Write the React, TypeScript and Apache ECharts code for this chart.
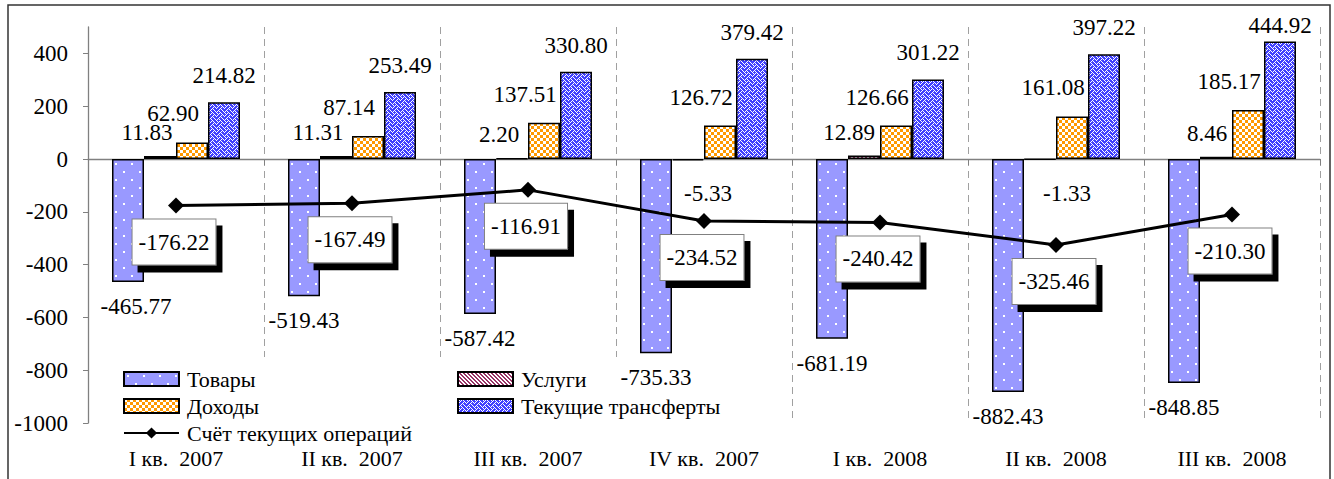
import React, { useEffect, useRef } from 'react';
import * as echarts from 'echarts';

const categories = ['I кв.  2007', 'II кв.  2007', 'III кв.  2007', 'IV кв.  2007', 'I кв.  2008', 'II кв.  2008', 'III кв.  2008'];
const goods = [-465.77, -519.43, -587.42, -735.33, -681.19, -882.43, -848.85];
const services = [11.83, 11.31, 2.2, -5.33, 12.89, -1.33, 8.46];
const income = [62.9, 87.14, 137.51, 126.72, 126.66, 161.08, 185.17];
const transfers = [214.82, 253.49, 330.8, 379.42, 301.22, 397.22, 444.92];
const currentAccount = [-176.22, -167.49, -116.91, -234.52, -240.42, -325.46, -210.3];
const yTicks = [-1000, -800, -600, -400, -200, 0, 200, 400];

// label placement tweaks (positions only)
const goodsLabelDx = [8, 0, 0, 0, 0, 0, 0];
const servicesLabelDx = [-13, -18, -13, 20, -15, 27, -9];
const transfersLabelDist = [15, 15, 15, 15, 15, 15, 5];

const FONT = 'Liberation Serif';

function makeCanvas(w: number, h: number, draw: (ctx: CanvasRenderingContext2D) => void) {
  const c = document.createElement('canvas');
  c.width = w;
  c.height = h;
  const ctx = c.getContext('2d')!;
  draw(ctx);
  return c;
}

function patterns() {
  const goodsP = makeCanvas(16, 16, (ctx) => {
    ctx.fillStyle = '#9999FF';
    ctx.fillRect(0, 0, 16, 16);
    ctx.fillStyle = '#ffffff';
    ctx.fillRect(3, 3, 2, 2);
    ctx.fillRect(11, 11, 2, 2);
  });
  const servicesP = makeCanvas(8, 8, (ctx) => {
    ctx.fillStyle = '#ffffff';
    ctx.fillRect(0, 0, 8, 8);
    ctx.fillStyle = '#993366';
    for (let y = 0; y < 8; y++) for (let x = 0; x < 8; x++) if ((x - y + 16) % 4 < 2) ctx.fillRect(x, y, 1, 1);
  });
  const incomeP = makeCanvas(6, 6, (ctx) => {
    ctx.fillStyle = '#FF9900';
    ctx.fillRect(0, 0, 6, 6);
    ctx.fillStyle = '#ffffff';
    ctx.fillRect(0, 0, 3, 3);
    ctx.fillRect(3, 3, 3, 3);
  });
  const bits = [0x88, 0x54, 0x22, 0x45, 0x88, 0x14, 0x22, 0x51];
  const transfersP = makeCanvas(8, 8, (ctx) => {
    ctx.fillStyle = '#4040FF';
    ctx.fillRect(0, 0, 8, 8);
    ctx.fillStyle = '#ffffff';
    for (let y = 0; y < 8; y++) for (let x = 0; x < 8; x++) if ((bits[y] >> (7 - x)) & 1) ctx.fillRect(x, y, 1, 1);
  });
  const pat = (c: HTMLCanvasElement) => ({ image: c, repeat: 'repeat', imageWidth: c.width, imageHeight: c.height } as any);
  return { goods: pat(goodsP), services: pat(servicesP), income: pat(incomeP), transfers: pat(transfersP) };
}

const fmt = (p: any) => Number(p.value).toFixed(2);

export default function App() {
  const ref = useRef<HTMLDivElement>(null);
  useEffect(() => {
    if (!ref.current) return;
    const chart = echarts.init(ref.current, undefined, { renderer: 'svg' });
    const P = patterns();
    const labelBase = { show: true, color: '#000', fontSize: 23, fontFamily: FONT, formatter: fmt };
    const barItem = (fill: any) => ({ color: fill, borderColor: '#000', borderWidth: 1.5 });
    const legendText = { fontSize: 22, color: '#000', fontFamily: FONT, padding: [0, 0, 0, 3] };
    const option: any = {
      animation: false,
      textStyle: { fontFamily: FONT },
      grid: { left: 88, right: 14, top: 27, bottom: 56 },
      graphic: [
        { type: 'rect', z: 0, silent: true, shape: { x: 8, y: 5, width: 1322, height: 500 }, style: { fill: 'none', stroke: '#333', lineWidth: 1.5 } },
        { type: 'rect', z: 1, silent: true, shape: { x: 100, y: 357, width: 685, height: 90 }, style: { fill: '#fff' } },
      ],
      xAxis: [
        {
          type: 'category', data: categories, position: 'top',
          axisLine: { onZero: true, lineStyle: { color: '#808080', width: 1.3 } },
          axisTick: { show: true, inside: true, length: 6, lineStyle: { color: '#808080' } },
          axisLabel: { show: false },
          splitLine: { show: true, lineStyle: { color: '#a0a0a0', type: [7, 5], width: 1 } },
        },
        {
          type: 'category', data: categories, position: 'bottom',
          axisLine: { show: false }, axisTick: { show: false }, splitLine: { show: false },
          axisLabel: { fontSize: 22, color: '#000', fontFamily: FONT, margin: 24 },
        },
      ],
      yAxis: {
        type: 'value', min: -1000, max: 500,
        axisLine: { show: true, lineStyle: { color: '#808080', width: 1.3 } },
        axisTick: { show: true, length: 5, customValues: yTicks, lineStyle: { color: '#808080' } },
        axisLabel: { customValues: yTicks, fontSize: 23, color: '#000', fontFamily: FONT, margin: 20, formatter: (v: number) => String(v) },
        splitLine: { show: false },
      },
      legend: [
        {
          left: 123, top: 368, orient: 'vertical', itemWidth: 55, itemHeight: 14, itemGap: 5, padding: 0, z: 5,
          textStyle: legendText,
          data: [{ name: 'Товары', icon: 'rect' }, { name: 'Доходы', icon: 'rect' }, { name: 'Счёт текущих операций' }],
        },
        {
          left: 457, top: 368, orient: 'vertical', itemWidth: 55, itemHeight: 14, itemGap: 5, padding: 0, z: 5,
          textStyle: legendText,
          data: [{ name: 'Услуги', icon: 'rect' }, { name: 'Текущие трансферты', icon: 'rect' }],
        },
      ],
      series: [
        {
          name: 'Товары', type: 'bar', barWidth: 32, barGap: '0%', z: 2,
          itemStyle: barItem(P.goods),
          label: { ...labelBase, position: 'bottom', distance: 13 },
          data: goods.map((v, i) => ({ value: v, label: { offset: [goodsLabelDx[i], 0] } })),
        },
        {
          name: 'Услуги', type: 'bar', barWidth: 32, barGap: '0%', z: 2,
          itemStyle: barItem(P.services),
          label: { ...labelBase },
          data: services.map((v, i) => ({
            value: v,
            label: { position: v < 0 ? 'bottom' : 'top', distance: v < 0 ? 22 : 12, offset: [servicesLabelDx[i], 0] },
          })),
        },
        {
          name: 'Доходы', type: 'bar', barWidth: 32, barGap: '0%', z: 2,
          itemStyle: barItem(P.income),
          label: { ...labelBase, position: 'top', distance: 17, offset: [-19, 0] },
          data: income,
        },
        {
          name: 'Текущие трансферты', type: 'bar', barWidth: 32, barGap: '0%', z: 2,
          itemStyle: barItem(P.transfers),
          label: { ...labelBase, position: 'top' },
          data: transfers.map((v, i) => ({ value: v, label: { distance: transfersLabelDist[i] } })),
        },
        {
          name: 'Счёт текущих операций', type: 'line', z: 4,
          symbol: 'diamond', symbolSize: 16,
          itemStyle: { color: '#000' },
          lineStyle: { color: '#000', width: 3 },
          label: {
            ...labelBase, position: 'bottom', distance: 6, offset: [-2, 0],
            backgroundColor: '#fff', borderColor: '#808080', borderWidth: 1,
            padding: [11, 6, 11, 6],
            shadowColor: '#000', shadowBlur: 0, shadowOffsetX: 6, shadowOffsetY: 7,
          },
          data: currentAccount,
        },
      ],
    };
    chart.setOption(option);
    return () => chart.dispose();
  }, []);
  return <div ref={ref} style={{ position: 'absolute', left: 0, top: 0, width: 1334, height: 479 }} />;
}
